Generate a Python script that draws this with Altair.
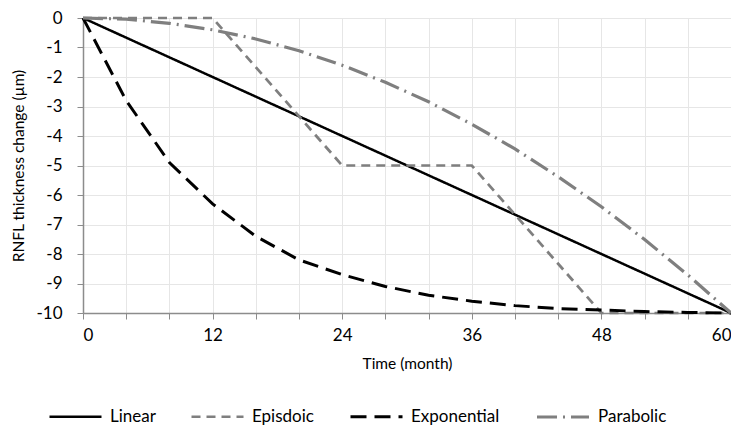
import altair as alt
import pandas as pd

series_names = ["Linear", "Episdoic", "Exponential", "Parabolic"]

linear_t = [0, 60]
linear_v = [0, -10]

episodic_t = [0, 12, 24, 36, 48, 60]
episodic_v = [0, 0, -5, -5, -10, -10]

expo_t = [0, 4, 8, 12, 16, 20, 24, 28, 32, 36, 40, 44, 48, 52, 56, 60]
expo_v = [0, -2.8, -4.9, -6.3, -7.4, -8.2, -8.7, -9.1, -9.4, -9.6, -9.75, -9.85, -9.9, -9.95, -9.98, -10]

para_t = [0, 4, 8, 12, 16, 20, 24, 28, 32, 36, 40, 44, 48, 52, 56, 60]
para_v = [0, -0.04, -0.18, -0.4, -0.71, -1.11, -1.6, -2.18, -2.84, -3.6, -4.44, -5.38, -6.4, -7.51, -8.71, -10]

rows = []
for name, ts, vs in [("Linear", linear_t, linear_v), ("Episdoic", episodic_t, episodic_v),
                     ("Exponential", expo_t, expo_v), ("Parabolic", para_t, para_v)]:
    for i, (t, v) in enumerate(zip(ts, vs)):
        rows.append({"series": name, "t": t, "v": v, "i": i})
df = pd.DataFrame(rows)

colors = ["#000000", "#7f7f7f", "#000000", "#7f7f7f"]
dashes = [[1, 0], [9, 6], [16, 8], [20, 6, 2, 6]]
widths = [2.5, 3.2, 2.7, 2.5]

FONT = "Lato"

chart = alt.Chart(df).mark_line().encode(
    x=alt.X("t:Q", title="Time (month)",
            scale=alt.Scale(domain=[0, 60], nice=False),
            axis=alt.Axis(values=list(range(0, 61, 4)),
                          labelExpr="datum.value % 12 == 0 ? toString(datum.value) : ''",
                          tickSize=6, labelPadding=8, titlePadding=13)),
    y=alt.Y("v:Q", title="RNFL thickness change (µm)",
            scale=alt.Scale(domain=[-10, 0], nice=False),
            axis=alt.Axis(values=list(range(-10, 1)), labelExpr="toString(datum.value)",
                          tickSize=6, labelPadding=15, titlePadding=9)),
    color=alt.Color("series:N", scale=alt.Scale(domain=series_names, range=colors),
                    legend=alt.Legend(title=None, orient="none", direction="horizontal",
                                      legendX=-35, legendY=371)),
    strokeDash=alt.StrokeDash("series:N", scale=alt.Scale(domain=series_names, range=dashes)),
    strokeWidth=alt.StrokeWidth("series:N", scale=alt.Scale(domain=series_names, range=widths)),
    order="i:Q",
).properties(
    width=648, height=295,
    autosize=alt.AutoSizeParams(type="none"),
    padding={"left": 75, "top": 10, "right": 0, "bottom": 115},
).configure_view(stroke=None).configure_axis(
    labelFont=FONT, titleFont=FONT, labelFontSize=17,
    labelColor="#000000", titleColor="#000000", titleFontWeight="normal",
    domainColor="#8c8c8c", tickColor="#8c8c8c", domainWidth=1.5,
    gridColor="#e6e6e6", gridWidth=1,
).configure_axisX(titleFontSize=15.5).configure_axisY(titleFontSize=15.5).configure_legend(
    labelFont=FONT, labelFontSize=17, labelColor="#000000",
    symbolType="stroke", symbolSize=2704, symbolStrokeWidth=3,
    columnPadding=30, labelOffset=7,
)

chart.save("out.html", embed_options={"renderer": "svg", "actions": False})
